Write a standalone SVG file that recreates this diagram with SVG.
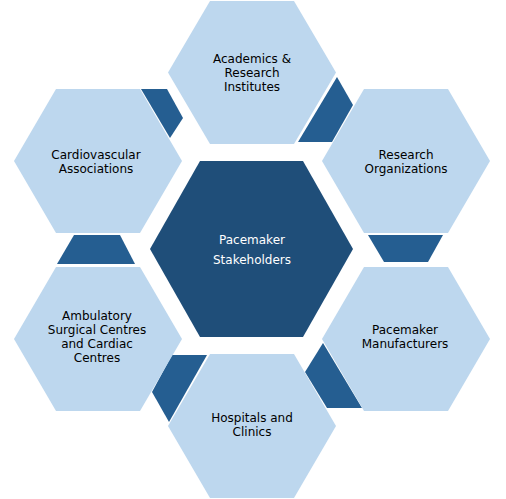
<svg xmlns="http://www.w3.org/2000/svg" width="506" height="499" viewBox="0 0 506 499">
<style>
.hex{fill:#BDD7EE}
.conn{fill:#255E91}
.core{fill:#1F4E79}
text{font-family:"DejaVu Sans","Liberation Sans",sans-serif;font-size:12px;text-anchor:middle;fill:#000}
.w{fill:#fff}
</style>
<rect width="506" height="499" fill="#fff"/>
<g id="connectors">
<polygon class="conn" points="141,89 167,89 183,118 170,138"/>
<polygon class="conn" points="337,77 353,105 332,142 298,142"/>
<polygon class="conn" points="74,235 120,235 135,264 57,264"/>
<polygon class="conn" points="368,235 443,235 428,262 384,262"/>
<polygon class="conn" points="172,355 207,355 169,422 152,392"/>
<polygon class="conn" points="323,343 305,372 327,408 362,408"/>
</g>
<g id="center">
<polygon class="core" points="150,249 200,161 303,161 353,249 303,337 200,337"/>
<text class="w" x="252" y="244">Pacemaker</text>
<text class="w" x="252" y="264">Stakeholders</text>
</g>
<g id="academics">
<polygon class="hex" points="168,72.5 210,1 294,1 336,72.5 294,144 210,144"/>
<text x="252" y="63">Academics &amp;</text>
<text x="252" y="77">Research</text>
<text x="252" y="91">Institutes</text>
</g>
<g id="research-org">
<polygon class="hex" points="322,161 364,89 448,89 490,161 448,233 364,233"/>
<text x="406" y="159">Research</text>
<text x="406" y="173">Organizations</text>
</g>
<g id="manufacturers">
<polygon class="hex" points="322,339 364,267 448,267 490,339 448,411 364,411"/>
<text x="405" y="334">Pacemaker</text>
<text x="405" y="348">Manufacturers</text>
</g>
<g id="hospitals">
<polygon class="hex" points="168,426 210,354 294,354 336,426 294,498 210,498"/>
<text x="252" y="422">Hospitals and</text>
<text x="252" y="436">Clinics</text>
</g>
<g id="ambulatory">
<polygon class="hex" points="14,339 56,267 140,267 182,339 140,411 56,411"/>
<text x="97" y="320">Ambulatory</text>
<text x="97" y="334">Surgical Centres</text>
<text x="97" y="348">and Cardiac</text>
<text x="97" y="362">Centres</text>
</g>
<g id="cardiovascular">
<polygon class="hex" points="14,161 56,89 140,89 182,161 140,233 56,233"/>
<text x="96" y="159">Cardiovascular</text>
<text x="96" y="173">Associations</text>
</g>
</svg>
